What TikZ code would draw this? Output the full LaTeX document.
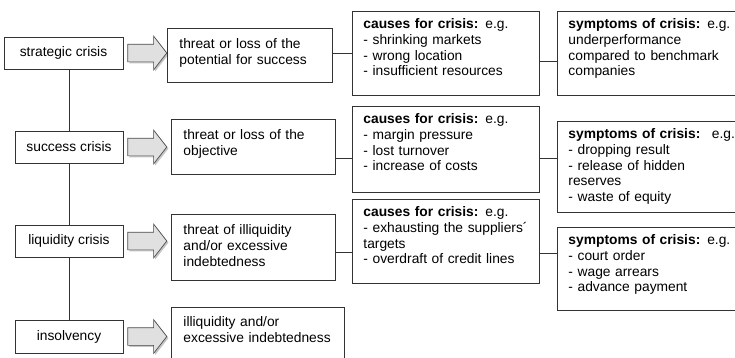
\documentclass[tikz,border=0pt]{standalone}
\usepackage{fontspec}
\setmainfont{Liberation Sans}
\usetikzlibrary{positioning, shapes.arrows, shadows}

\newcommand\boxfont{\fontsize{13.8}{15.8}\selectfont\hyphenpenalty=10000}

\tikzset{
  crisis/.style={draw=black!80, line width=0.9pt, minimum width=108pt, minimum height=32pt, inner sep=0pt, font=\boxfont},
  box/.style={draw=black!80, line width=0.9pt, anchor=north west, align=left, inner xsep=11pt, inner ysep=7pt, text height=10pt, font=\boxfont},
  push/.style={single arrow, draw=black!70, fill=black!12, line width=0.7pt, minimum height=39pt, inner xsep=0pt, inner ysep=8.5pt,
    single arrow head extend=8pt, single arrow tip angle=104, drop shadow={shadow xshift=1.6pt, shadow yshift=-1.6pt, fill=black!45}},
  link/.style={draw=black!80, line width=0.9pt}
}

\begin{document}
\begin{tikzpicture}[x=1pt,y=-1pt]
\useasboundingbox (0,0) rectangle (735,357);

% kinds of crisis
\node[crisis, minimum width=119pt] (c1) at (63.5,53) {strategic crisis};
\node[crisis] (c2) at (69,147) {success crisis};
\node[crisis] (c3) at (69,241) {liquidity crisis};
\node[crisis, minimum height=33pt] (c4) at (69,336.5) {insolvency};

\draw[link] (c2.north |- c1.south) -- (c2.north);
\draw[link] (c2.south) -- (c3.north);
\draw[link] (c3.south) -- (c4.north);

% block arrows
\node[push, right=4pt of c1] (a1) {};
\node[push, right=4pt of c2] (a2) {};
\node[push, right=4pt of c3] (a3) {};
\node[push, right=4pt of c4] (a4) {};

% threats
\node[box, inner xsep=12pt, inner ysep=10pt, text width=141pt, text depth=24pt] (t1) at (167,28) {threat or loss of the\\potential for success};
\node[box, inner xsep=12pt, inner ysep=10pt, text width=140pt, text depth=25pt] (t2) at (171,119) {threat or loss of the\\objective};
\node[box, inner xsep=12pt, inner ysep=10pt, text width=140pt, text depth=36pt] (t3) at (171,214) {threat of illiquidity\\and/or excessive\\indebtedness};
\node[box, inner xsep=12pt, inner ysep=9pt, text width=149pt, text depth=44pt] (t4) at (171,307) {illiquidity and/or\\excessive indebtedness};

% causes
\node[box, text width=165pt, text depth=60pt] (k1) at (352,11) {\textbf{causes for crisis:} e.g.\\- shrinking markets\\- wrong location\\- insufficient resources};
\node[box, text width=165pt, text depth=62pt] (k2) at (352,106) {\textbf{causes for crisis:} e.g.\\- margin pressure\\- lost turnover\\- increase of costs};
\node[box, text width=165pt, text depth=60pt] (k3) at (352,199) {\textbf{causes for crisis:} e.g.\\- exhausting the suppliers´\\targets\\- overdraft of credit lines};

% symptoms
\node[box, text width=178pt, text depth=60pt] (m1) at (557,11) {\textbf{symptoms of crisis:} e.g.\\underperformance\\compared to benchmark\\companies};
\node[box, text width=178pt, text depth=67pt] (m2) at (557,121) {\textbf{symptoms of crisis:}~ e.g.\\- dropping result\\- release of hidden\\reserves\\- waste of equity};
\node[box, text width=178pt, text depth=59pt] (m3) at (557,227) {\textbf{symptoms of crisis:} e.g.\\- court order\\- wage arrears\\- advance payment};

\draw[link] (t1.east |- 0,53) -- (k1.west |- 0,53);
\draw[link] (t2.east |- 0,158) -- (k2.west |- 0,158);
\draw[link] (t3.east |- 0,252) -- (k3.west |- 0,252);

\draw[link] (k1.east |- 0,61) -- (m1.west |- 0,61);
\draw[link] (k2.east |- 0,158) -- (m2.west |- 0,158);
\draw[link] (k3.east |- 0,253) -- (m3.west |- 0,253);

\end{tikzpicture}
\end{document}
